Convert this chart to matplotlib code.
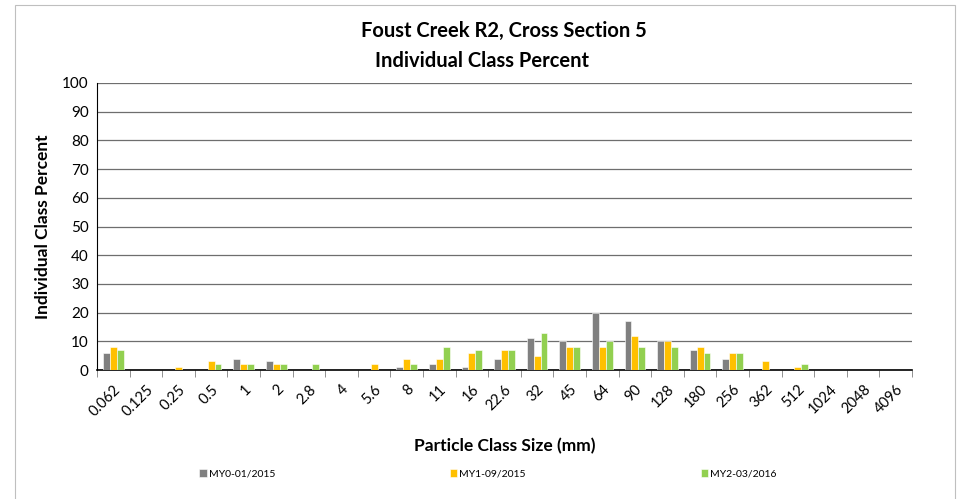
import numpy as np
import matplotlib.pyplot as plt
from matplotlib.patches import Rectangle

plt.rcParams['font.family'] = ['Lato', 'DejaVu Sans']

# Data
sizes = ["0.062", "0.125", "0.25", "0.5", "1", "2", "2.8", "4", "5.6", "8", "11", "16",
         "22.6", "32", "45", "64", "90", "128", "180", "256", "362", "512", "1024",
         "2048", "4096"]
my0 = [6, 0, 0, 0, 4, 3, 0, 0, 0, 1, 2, 1, 4, 11, 10, 20, 17, 10, 7, 4, 0, 0, 0, 0, 0]
my1 = [8, 0, 1, 3, 2, 2, 0, 0, 2, 4, 4, 6, 7, 5, 8, 8, 12, 10, 8, 6, 3, 1, 0, 0, 0]
my2 = [7, 0, 0, 2, 2, 2, 2, 0, 0, 2, 8, 7, 7, 13, 8, 10, 8, 8, 6, 6, 0, 2, 0, 0, 0]
labels = ["MY0-01/2015", "MY1-09/2015", "MY2-03/2016"]
colors = ["#808080", "#FFC000", "#92D050"]

fig = plt.figure(figsize=(9.57, 4.99), dpi=100)
ax = fig.add_axes([97 / 957, 129 / 499, 815 / 957, 287 / 499])

x = np.arange(len(sizes))
w = 0.21
for i, (vals, lab, c) in enumerate(zip([my0, my1, my2], labels, colors)):
    ax.bar(x + (i - 1) * w, vals, width=w, color=c, label=lab,
           edgecolor="white", linewidth=0.4, zorder=3)

ax.set_xlim(-0.5, len(sizes) - 0.5)
ax.set_ylim(0, 100)
ax.set_yticks(range(0, 101, 10))
ax.yaxis.grid(True, color="#6e6e6e", linewidth=0.9, zorder=0)
ax.set_axisbelow(True)

ax.set_xticks(x)
ax.set_xticklabels(sizes, rotation=45, ha="right", rotation_mode="anchor", fontsize=10.5)
ax.set_xticks(np.arange(-0.5, len(sizes), 1), minor=True)
ax.tick_params(axis="x", which="major", length=0, pad=9)
ax.tick_params(axis="x", which="minor", length=5, color="#7f7f7f")
ax.tick_params(axis="y", length=0, labelsize=11, pad=6)

for s in ["top", "right"]:
    ax.spines[s].set_visible(False)
ax.spines["left"].set_color("black")
ax.spines["bottom"].set_color("black")
ax.spines["bottom"].set_linewidth(1.2)

ax.set_ylabel("Individual Class Percent", fontsize=12.5, fontweight="bold", labelpad=8)
ax.set_xlabel("Particle Class Size (mm)", fontsize=12.5, fontweight="bold", labelpad=14)

fig.text(504 / 957, 1 - 31 / 499, "Foust Creek R2, Cross Section 5", ha="center", va="center",
         fontsize=14.5, fontweight="bold")
fig.text(482 / 957, 1 - 61 / 499, "Individual Class Percent", ha="center", va="center",
         fontsize=14.5, fontweight="bold")

fig.legend(loc="center", bbox_to_anchor=(488 / 957, 1 - 474 / 499), ncol=3, frameon=False,
           fontsize=7.5, handlelength=0.7, handleheight=0.7, handletextpad=0.2,
           columnspacing=16.8)

fig.patches.append(Rectangle((15 / 957, -0.01), 940 / 957, 1.0, transform=fig.transFigure,
                             fill=False, edgecolor="#bfbfbf", linewidth=0.8))

fig.savefig("out.png", dpi=100)
